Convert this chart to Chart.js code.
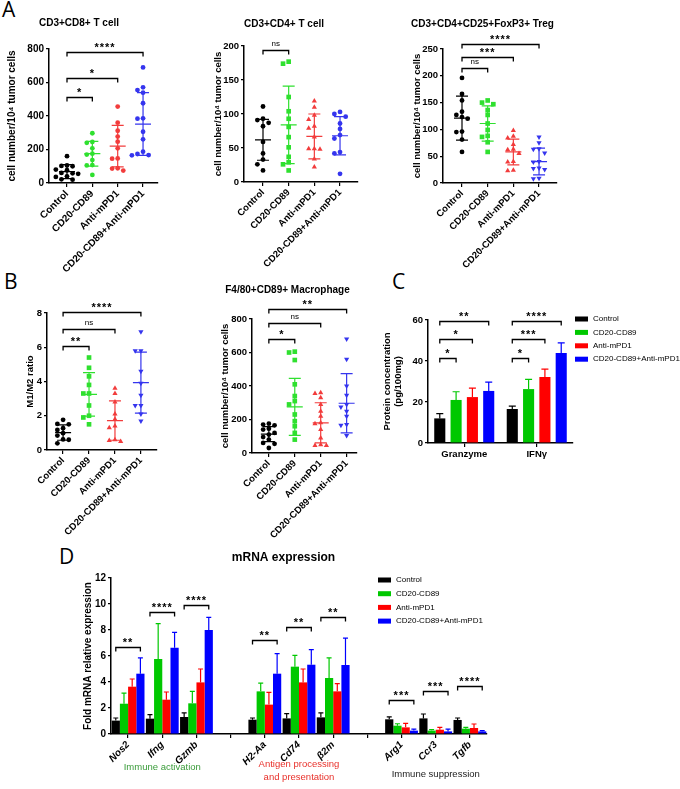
<!DOCTYPE html>
<html>
<head>
<meta charset="utf-8">
<title>Tumor immune profiling</title>
<script src="https://cdn.jsdelivr.net/npm/chart.js@4.4.1/dist/chart.umd.min.js"></script>
<style>
  body { margin: 0; width: 680px; height: 789px; position: relative; overflow: hidden; background: #fff; }
  .panel { position: absolute; }
  .tag { position: absolute; font-family: 'Open Sans', sans-serif; font-size: 21px; line-height: 21px; color: #000; }
</style>
</head>
<body>
<div class="tag" style="left:2px;top:-1px">A</div>
<div class="tag" style="left:4px;top:271px">B</div>
<div class="tag" style="left:392px;top:271px">C</div>
<div class="tag" style="left:59px;top:546px">D</div>

<div class="panel" style="left:0;top:8px;width:186px;height:272px"><canvas id="cd8Chart"></canvas></div>
<div class="panel" style="left:210px;top:8px;width:178px;height:272px"><canvas id="cd4Chart"></canvas></div>
<div class="panel" style="left:408px;top:8px;width:172px;height:272px"><canvas id="tregChart"></canvas></div>
<div class="panel" style="left:0;top:290px;width:190px;height:250px"><canvas id="ratioChart"></canvas></div>
<div class="panel" style="left:218px;top:278px;width:156px;height:267px"><canvas id="macroChart"></canvas></div>
<div class="panel" style="left:378px;top:290px;width:302px;height:180px"><canvas id="proteinChart"></canvas></div>
<div class="panel" style="left:80px;top:545px;width:438px;height:244px"><canvas id="mrnaChart"></canvas></div>

<script>
const groups = ['Control', 'CD20-CD89', 'Anti-mPD1', 'CD20-CD89+Anti-mPD1'];

// A: CD3+CD8+ T cells (per 10^4 tumor cells)
const cd8Values = [
  [160, 105, 102, 100, 80, 76, 60, 58, 55, 40, 36, 22, 20],
  [297, 245, 240, 207, 175, 170, 137, 107, 105, 48],
  [456, 360, 312, 277, 247, 207, 147, 145, 88, 86, 74],
  [690, 571, 555, 539, 476, 386, 384, 306, 261, 187, 173, 167, 165]
];
const cd8Mean = [68, 175, 220, 352];
const cd8Sd = [42, 74, 124, 187];
const cd8Sig = [[0, 1, '*', 515], [0, 2, '*', 629], [0, 3, '****', 780]];

// A: CD3+CD4+ T cells
const cd4Values = [
  [111, 93, 91, 87, 82, 59, 42, 33, 26, 17],
  [177, 174, 125, 104, 93, 81, 66, 51, 37, 29, 26, 17],
  [119, 110, 98, 92, 82, 79, 66, 49, 49, 48, 34, 22],
  [103, 100, 96, 86, 78, 69, 64, 44, 42, 12]
];
const cd4Mean = [62, 84, 67, 68];
const cd4Sd = [30, 57, 33, 28];
const cd4Sig = [[0, 1, 'ns', 194]];

// A: CD3+CD4+CD25+FoxP3+ Treg
const tregValues = [
  [196, 166, 154, 133, 127, 123, 120, 96, 95, 81, 58],
  [154, 150, 147, 136, 127, 111, 99, 88, 86, 76, 58],
  [98, 87, 84, 72, 63, 62, 55, 40, 39, 24, 23],
  [86, 75, 64, 63, 56, 40, 39, 28, 27, 25, 9, 8]
];
const tregMean = [121, 111, 58, 40];
const tregSd = [41, 33, 24, 25];
const tregSig = [[0, 1, 'ns', 214], [0, 2, '***', 236], [0, 3, '****', 259]];

// B: M1/M2 ratio
const ratioValues = [
  [1.76, 1.52, 1.5, 1.27, 1.17, 0.98, 0.84, 0.62, 0.6, 0.39],
  [5.4, 4.8, 4.3, 3.8, 3.3, 3.3, 2.6, 2.0, 1.9, 1.5],
  [3.6, 3.3, 2.8, 2.1, 1.8, 1.4, 1.3, 0.6, 0.55, 0.5],
  [6.9, 5.8, 5.8, 4.6, 3.9, 3.2, 2.6, 2.6, 2.1, 1.7]
];
const ratioMean = [1.02, 3.25, 1.72, 3.93];
const ratioSd = [0.45, 1.27, 1.15, 1.78];
const ratioSig = [[0, 1, '**', 6.05], [0, 2, 'ns', 7.06], [0, 3, '****', 8.04]];

// B: F4/80+CD89+ macrophages
const macroValues = [
  [175, 170, 165, 145, 140, 120, 110, 95, 80, 60, 55, 30],
  [605, 600, 555, 410, 340, 310, 290, 230, 190, 160, 120, 80],
  [360, 355, 330, 290, 250, 220, 180, 175, 140, 90, 50, 45, 45],
  [680, 560, 400, 345, 290, 275, 250, 220, 170, 165, 105]
];
const macroMean = [113, 275, 180, 297];
const macroSd = [45, 170, 120, 177];
const macroSig = [[0, 1, '*', 683], [0, 2, 'ns', 776], [0, 3, '**', 858]];

// C: protein concentration (pg/100mg)
const cytokines = ['Granzyme', 'IFNγ'];
const protControl = [12, 16.6];
const protCd20 = [21, 26.3];
const protPd1 = [22.4, 32.2];
const protCombo = [25.4, 43.9];
const protErr = [[2.3, 1.4], [4, 4.7], [4.4, 3.8], [4.3, 4.9]];
const protSig = [
  [0, 1, '*', 41.5, 0], [0, 2, '*', 50.7, 0], [0, 3, '**', 59.5, 0],
  [0, 1, '*', 41.5, 1], [0, 2, '***', 50.7, 1], [0, 3, '****', 59.5, 1]
];

// D: fold mRNA relative expression (blank entries separate the gene sets)
const genes = ['Nos2', 'Ifng', 'Gzmb', '', 'H2-Aa', 'Cd74', 'β2m', '', 'Arg1', 'Ccr3', 'Tgfb'];
const mrnaControl = [1.03, 1.18, 1.31, null, 1.1, 1.2, 1.28, null, 1.13, 1.2, 1.08];
const mrnaCd20 = [2.33, 5.77, 2.36, null, 3.28, 5.18, 4.31, null, 0.64, 0.26, 0.41];
const mrnaPd1 = [3.64, 2.64, 3.97, null, 2.26, 3.97, 3.28, null, 0.51, 0.33, 0.46];
const mrnaCombo = [4.64, 6.64, 8.0, null, 4.64, 5.33, 5.31, null, 0.26, 0.2, 0.2];
const mrnaErrControl = [0.2, 0.31, 0.31, null, 0.13, 0.36, 0.34, null, 0.18, 0.34, 0.15];
const mrnaErrCd20 = [0.82, 2.72, 0.92, null, 0.64, 0.87, 1.54, null, 0.15, 0.07, 0.1];
const mrnaErrPd1 = [0.59, 0.59, 1.03, null, 0.94, 1.03, 0.59, null, 0.31, 0.18, 0.31];
const mrnaErrCombo = [1.21, 1.18, 0.97, null, 1.54, 1.16, 2.07, null, 0.12, 0.18, 0.06];
const mrnaSig = [
  [0, 3, '**', 6.7, 0], [0, 3, '****', 9.4, 1], [0, 3, '****', 9.9, 2],
  [0, 3, '**', 7.2, 4], [0, 3, '**', 8.2, 5], [0, 3, '**', 9.0, 6],
  [0, 3, '***', 2.6, 8], [0, 3, '***', 3.3, 9], [0, 3, '****', 3.7, 10]
];

const dotColors = ['#000000', '#2fe02f', '#f23c3c', '#3535ee'];
const barColors = ['#000000', '#00c800', '#ff0000', '#0000ff'];

const FONT = "'Liberation Sans', Arial, sans-serif";
Chart.defaults.font.family = FONT;
Chart.defaults.color = '#000';
Chart.defaults.animation = false;
Chart.defaults.events = [];

// spread points sideways when they would overlap (GraphPad style scatter)
function swarm(vals, g, yMax) {
  const placed = [];
  const near = yMax * 0.035;
  const offsets = [0, -0.22, 0.22, -0.44, 0.44];
  return vals.map(v => {
    let dx = 0;
    for (const o of offsets) {
      if (!placed.some(p => Math.abs(p.y - v) < near && Math.abs(p.x - o) < 0.2)) { dx = o; break; }
    }
    placed.push({ x: dx, y: v });
    return { x: g + dx, y: v };
  });
}

const meanSd = {
  id: 'meanSd',
  afterDatasetsDraw(chart, args, opts) {
    if (!opts.means) return;
    const { ctx, scales: { x, y } } = chart;
    ctx.save();
    ctx.lineWidth = 1.2;
    opts.means.forEach((m, g) => {
      const cx = x.getPixelForValue(g);
      const mid = y.getPixelForValue(m);
      const top = y.getPixelForValue(m + opts.sds[g]);
      const bot = y.getPixelForValue(m - opts.sds[g]);
      ctx.strokeStyle = opts.colors[g];
      ctx.beginPath();
      ctx.moveTo(cx - 8, mid); ctx.lineTo(cx + 8, mid);
      ctx.moveTo(cx, top); ctx.lineTo(cx, bot);
      ctx.moveTo(cx - 6, top); ctx.lineTo(cx + 6, top);
      ctx.moveTo(cx - 6, bot); ctx.lineTo(cx + 6, bot);
      ctx.stroke();
    });
    ctx.restore();
  }
};

const brackets = {
  id: 'brackets',
  afterDatasetsDraw(chart, args, opts) {
    if (!opts.items) return;
    const { ctx, scales: { x, y } } = chart;
    ctx.save();
    ctx.strokeStyle = '#000';
    ctx.fillStyle = '#000';
    ctx.lineWidth = 1.3;
    ctx.textAlign = 'center';
    ctx.textBaseline = 'alphabetic';
    opts.items.forEach(([a, b, label, value, cat]) => {
      let xa, xb;
      if (cat === undefined) {
        xa = x.getPixelForValue(a);
        xb = x.getPixelForValue(b);
      } else {
        xa = chart.getDatasetMeta(a).data[cat].x;
        xb = chart.getDatasetMeta(b).data[cat].x;
      }
      const yy = Math.round(y.getPixelForValue(value)) + 0.5;
      ctx.beginPath();
      ctx.moveTo(xa, yy + 4); ctx.lineTo(xa, yy); ctx.lineTo(xb, yy); ctx.lineTo(xb, yy + 4);
      ctx.stroke();
      if (label === 'ns') {
        ctx.font = '8px ' + FONT;
        if ('letterSpacing' in ctx) ctx.letterSpacing = '0px';
        ctx.fillText(label, (xa + xb) / 2, yy - 4.5);
      } else {
        ctx.font = 'bold 11px ' + FONT;
        if ('letterSpacing' in ctx) ctx.letterSpacing = '1px';
        ctx.fillText(label, (xa + xb) / 2, yy - 1.5);
      }
    });
    ctx.restore();
  }
};

const errorBars = {
  id: 'errorBars',
  afterDatasetsDraw(chart, args, opts) {
    if (!opts.errors) return;
    const { ctx, scales: { y } } = chart;
    ctx.save();
    ctx.lineWidth = 1.2;
    chart.data.datasets.forEach((ds, d) => {
      chart.getDatasetMeta(d).data.forEach((bar, i) => {
        const v = ds.data[i], e = opts.errors[d][i];
        if (v == null || e == null) return;
        const top = y.getPixelForValue(v + e);
        ctx.strokeStyle = ds.backgroundColor;
        ctx.beginPath();
        ctx.moveTo(bar.x, bar.y); ctx.lineTo(bar.x, top);
        ctx.moveTo(bar.x - opts.cap, top); ctx.lineTo(bar.x + opts.cap, top);
        ctx.stroke();
      });
    });
    ctx.restore();
  }
};

const swatches = {
  id: 'swatches',
  afterDraw(chart, args, opts) {
    if (opts.x === undefined) return;
    const { ctx } = chart;
    ctx.save();
    ctx.font = opts.size + 'px ' + FONT;
    ctx.textBaseline = 'middle';
    ctx.textAlign = 'left';
    chart.data.datasets.forEach((ds, i) => {
      const yy = opts.y + i * opts.dy;
      ctx.fillStyle = ds.backgroundColor;
      ctx.fillRect(opts.x, yy - 2.5, 13, 5);
      ctx.fillStyle = '#000';
      ctx.fillText(ds.label, opts.x + 18, yy);
    });
    ctx.restore();
  }
};

const groupNotes = {
  id: 'groupNotes',
  afterDraw(chart, args, opts) {
    if (!opts.items) return;
    const { ctx, scales: { x } } = chart;
    ctx.save();
    ctx.font = '9.5px ' + FONT;
    ctx.textAlign = 'center';
    ctx.textBaseline = 'middle';
    opts.items.forEach(([cat, lines, color, top]) => {
      ctx.fillStyle = color;
      lines.forEach((t, k) => ctx.fillText(t, x.getPixelForValue(cat), top + k * 13));
    });
    ctx.restore();
  }
};

function yAxis(max, step, title, lay) {
  return {
    min: 0, max,
    afterFit: s => { s.width = lay.yw; },
    ticks: { stepSize: step, font: { size: lay.fs, weight: 'bold' }, padding: 2, color: '#000' },
    grid: { drawOnChartArea: false, tickLength: 3, color: '#000', lineWidth: 1.2 },
    border: { color: '#000', width: 1.5 },
    title: { display: true, text: title, color: '#000', font: { size: lay.fs, weight: 'bold' }, padding: { top: lay.yt, bottom: 0 } }
  };
}

function chartTitle(text, lay) {
  if (!text) return { display: false };
  return { display: true, text, color: '#000', font: { size: lay.ts || 10, weight: 'bold' }, padding: { top: lay.t1, bottom: lay.t2 } };
}

function scatterPanel(id, values, means, sds, sig, shapes, yMax, step, title, yTitle, lay) {
  const datasets = values.map((vals, g) => ({
    label: groups[g],
    data: swarm(vals, g, yMax),
    backgroundColor: dotColors[g],
    borderColor: dotColors[g],
    borderWidth: 0,
    pointStyle: shapes[g] === 'down' ? 'triangle' : shapes[g],
    pointRotation: shapes[g] === 'down' ? 180 : 0,
    pointRadius: shapes[g] === 'circle' ? 2.4 : (shapes[g] === 'rect' ? 3.3 : 3)
  }));
  new Chart(document.getElementById(id), {
    type: 'scatter',
    data: { datasets },
    plugins: [meanSd, brackets],
    options: {
      responsive: true,
      maintainAspectRatio: false,
      layout: { padding: { top: lay.padTop || 0, right: lay.padRight, left: 0, bottom: 0 } },
      plugins: {
        legend: { display: false },
        tooltip: { enabled: false },
        title: chartTitle(title, lay),
        meanSd: { means, sds, colors: dotColors },
        brackets: { items: sig }
      },
      scales: {
        x: {
          type: 'linear', min: lay.xmin, max: lay.xmax,
          afterBuildTicks: s => { s.ticks = groups.map((_, i) => ({ value: i })); },
          afterFit: s => { s.height = lay.xh; },
          ticks: { callback: v => groups[v], minRotation: 45, maxRotation: 45, autoSkip: false, padding: 1, color: '#000', font: { size: lay.fs, weight: 'bold' } },
          grid: { drawOnChartArea: false, tickLength: 4, color: '#000', lineWidth: 1.2 },
          border: { color: '#000', width: 1.5 }
        },
        y: yAxis(yMax, step, yTitle, lay)
      }
    }
  });
}

const cellTitle = 'cell number/10⁴ tumor cells';
const shapesCd8 = ['circle', 'circle', 'circle', 'circle'];
const shapesCd4 = ['circle', 'rect', 'triangle', 'circle'];
const shapesMix = ['circle', 'rect', 'triangle', 'down'];

scatterPanel('cd8Chart', cd8Values, cd8Mean, cd8Sd, cd8Sig, shapesCd8, 800, 200, 'CD3+CD8+ T cell', cellTitle,
  { yw: 49, xh: 97, padRight: 28, t1: 9, t2: 20, yt: 6, fs: 10, xmin: -0.71, xmax: 3.59 });
scatterPanel('cd4Chart', cd4Values, cd4Mean, cd4Sd, cd4Sig, shapesCd4, 200, 50, 'CD3+CD4+ T cell', cellTitle,
  { yw: 34, xh: 98, padRight: 30, t1: 10, t2: 16, yt: 2.3, fs: 9.5, xmin: -0.74, xmax: 3.7 });
scatterPanel('tregChart', tregValues, tregMean, tregSd, tregSig, shapesMix, 250, 50, 'CD3+CD4+CD25+FoxP3+ Treg', cellTitle,
  { yw: 35, xh: 97, padRight: 23, t1: 10, t2: 19, yt: 3.3, fs: 9.5, xmin: -0.74, xmax: 3.7 });
scatterPanel('ratioChart', ratioValues, ratioMean, ratioSd, ratioSig, shapesMix, 8, 2, null, 'M1/M2 ratio',
  { yw: 47, xh: 90, padRight: 33, padTop: 23, yt: 24.3, fs: 9.5, xmin: -0.62, xmax: 3.62 });
scatterPanel('macroChart', macroValues, macroMean, macroSd, macroSig, shapesMix, 800, 200, 'F4/80+CD89+ Macrophage', cellTitle,
  { yw: 34, xh: 92, padRight: 17, t1: 6, t2: 23, yt: 1.3, fs: 9.5, xmin: -0.65, xmax: 3.4 });

function barSets(series) {
  return series.map((data, d) => ({ label: groups[d], data, backgroundColor: barColors[d], borderWidth: 0 }));
}

new Chart(document.getElementById('proteinChart'), {
  type: 'bar',
  data: { labels: cytokines, datasets: barSets([protControl, protCd20, protPd1, protCombo]) },
  plugins: [errorBars, brackets, swatches],
  options: {
    responsive: true,
    maintainAspectRatio: false,
    datasets: { bar: { categoryPercentage: 0.9, barPercentage: 0.68 } },
    layout: { padding: { top: 30, right: 107, left: 0, bottom: 0 } },
    plugins: {
      legend: { display: false },
      tooltip: { enabled: false },
      errorBars: { errors: protErr, cap: 3.5 },
      brackets: { items: protSig },
      swatches: { x: 197, y: 29, dy: 13.4, size: 8 }
    },
    scales: {
      x: {
        afterFit: s => { s.height = 27; },
        ticks: { maxRotation: 0, minRotation: 0, padding: 2, color: '#000', font: { size: 9.5, weight: 'bold' } },
        grid: { offset: false, drawOnChartArea: false, tickLength: 4, color: '#000', lineWidth: 1.2 },
        border: { color: '#000', width: 1.5 }
      },
      y: yAxis(60, 20, ['Protein concentration', '(pg/100mg)'], { yw: 50, yt: 3.3, fs: 9.5 })
    }
  }
});

new Chart(document.getElementById('mrnaChart'), {
  type: 'bar',
  data: { labels: genes, datasets: barSets([mrnaControl, mrnaCd20, mrnaPd1, mrnaCombo]) },
  plugins: [errorBars, brackets, swatches, groupNotes],
  options: {
    responsive: true,
    maintainAspectRatio: false,
    datasets: { bar: { categoryPercentage: 0.96, barPercentage: 1 } },
    layout: { padding: { top: 0, right: 31, left: 0, bottom: 0 } },
    plugins: {
      legend: { display: false },
      tooltip: { enabled: false },
      title: chartTitle('mRNA expression', { ts: 12, t1: 5.8, t2: 12.8 }),
      errorBars: { errors: [mrnaErrControl, mrnaErrCd20, mrnaErrPd1, mrnaErrCombo], cap: 2.5 },
      brackets: { items: mrnaSig },
      swatches: { x: 298, y: 35, dy: 13.7, size: 8 },
      groupNotes: {
        items: [
          [1, ['Immune activation'], '#3a9c3a', 222],
          [5, ['Antigen processing', 'and presentation'], '#e8302a', 219],
          [9, ['Immune suppression'], '#222222', 229]
        ]
      }
    },
    scales: {
      x: {
        afterFit: s => { s.height = 55; },
        ticks: { minRotation: 45, maxRotation: 45, autoSkip: false, padding: 1, color: '#000', font: { size: 10, weight: 'bold', style: 'italic' } },
        grid: { offset: false, drawOnChartArea: false, tickLength: 4, color: '#000', lineWidth: 1.2 },
        border: { color: '#000', width: 1.5 }
      },
      y: yAxis(12, 2, 'Fold mRNA relative expression', { yw: 31, yt: 2, fs: 10 })
    }
  }
});
</script>
</body>
</html>
